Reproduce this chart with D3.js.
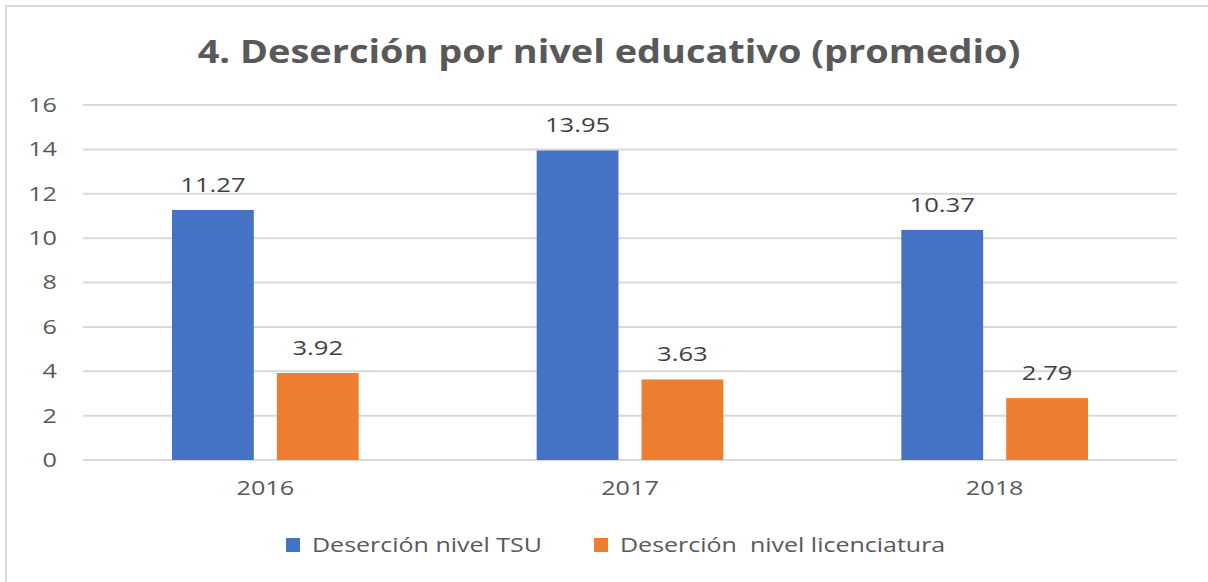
<!DOCTYPE html>
<html>
<head>
<meta charset="utf-8">
<script src="https://cdn.jsdelivr.net/npm/d3@7"></script>
<style>
  body { margin: 0; background: #fff; }
  text { font-family: 'Open Sans', 'Noto Sans', sans-serif; }
  .grid line { stroke: #d9d9d9; stroke-width: 2px; }
  .axis text { fill: #595959; font-size: 20px; }
  .label { fill: #404040; font-size: 20px; }
</style>
</head>
<body>
<div id="chart"></div>
<script>
const years = ["2016", "2017", "2018"];
const seriesNames = ["Deserción nivel TSU", "Deserción  nivel licenciatura"];
const tsu = [11.27, 13.95, 10.37];
const licenciatura = [3.92, 3.63, 2.79];
const yTicks = [0, 2, 4, 6, 8, 10, 12, 14, 16];
const colors = ["#4472c4", "#ed7d31"];

const width = 1208, height = 582;
const margin = { top: 105, right: 31, bottom: 122, left: 83 };
const innerW = width - margin.left - margin.right;
const innerH = height - margin.top - margin.bottom;
const stretch = 1.26; // the source text is drawn wide

const svg = d3.select("#chart").append("svg")
  .attr("width", width)
  .attr("height", height);

// widen a text around its anchor point
function widen(sel, k) {
  sel.each(function () {
    const t = d3.select(this);
    const x = +t.attr("x") || 0, y = +t.attr("y") || 0;
    t.attr("transform", `translate(${x},${y}) scale(${k},1) translate(${-x},${-y})`);
  });
}

// chart border (right and bottom edges fall outside the picture)
svg.append("rect")
  .attr("x", 6).attr("y", 6)
  .attr("width", width + 10).attr("height", height + 10)
  .attr("fill", "none").attr("stroke", "#d9d9d9").attr("stroke-width", 2);

svg.append("text")
  .attr("x", 609).attr("y", 63)
  .attr("text-anchor", "middle")
  .attr("fill", "#595959")
  .style("font-size", "32px").style("font-weight", "bold")
  .text("4. Deserción por nivel educativo (promedio)")
  .call(widen, 1.185);

const g = svg.append("g").attr("transform", `translate(${margin.left},${margin.top})`);

const x0 = d3.scaleBand().domain(years).range([0, innerW]).paddingInner(0).paddingOuter(0);
const x1 = d3.scaleBand().domain([0, 1]).range([89, x0.bandwidth() - 89]).paddingInner(0.22);
const y = d3.scaleLinear().domain([0, 16]).range([innerH, 0]);

g.append("g").attr("class", "grid")
  .selectAll("line").data(yTicks).join("line")
  .attr("x1", 0).attr("x2", innerW)
  .attr("y1", d => y(d)).attr("y2", d => y(d));

const yAxis = g.append("g").attr("class", "axis")
  .call(d3.axisLeft(y).tickValues(yTicks).tickSize(0).tickPadding(26))
  .call(s => s.select(".domain").remove());
yAxis.selectAll("text").call(widen, stretch);

const xAxis = g.append("g").attr("class", "axis")
  .attr("transform", `translate(0,${innerH})`)
  .call(d3.axisBottom(x0).tickSize(0).tickPadding(21))
  .call(s => s.select(".domain").remove());
xAxis.selectAll("text").call(widen, stretch);

const data = years.map((yr, i) => ({ yr, vals: [tsu[i], licenciatura[i]] }));

const groups = g.selectAll(".grp").data(data).join("g")
  .attr("transform", d => `translate(${x0(d.yr)},0)`);

groups.selectAll("rect").data(d => d.vals.map((v, k) => ({ v, k }))).join("rect")
  .attr("x", d => x1(d.k))
  .attr("width", x1.bandwidth())
  .attr("y", d => y(d.v))
  .attr("height", d => innerH - y(d.v))
  .attr("fill", d => colors[d.k]);

groups.selectAll(".label").data(d => d.vals.map((v, k) => ({ v, k }))).join("text")
  .attr("class", "label")
  .attr("x", d => x1(d.k) + x1.bandwidth() / 2)
  .attr("y", d => y(d.v) - 18)
  .attr("text-anchor", "middle")
  .text(d => d.v.toFixed(2))
  .call(widen, 1.28);

const legend = svg.append("g").attr("transform", "translate(0,545)");
const legendX = [286, 594];
seriesNames.forEach((name, i) => {
  legend.append("rect")
    .attr("x", legendX[i]).attr("y", -7)
    .attr("width", 14).attr("height", 14)
    .attr("fill", colors[i]);
  legend.append("text")
    .attr("x", legendX[i] + 26).attr("y", 7)
    .attr("fill", "#595959")
    .style("font-size", "20px")
    .attr("xml:space", "preserve")
    .style("white-space", "pre")
    .text(name)
    .call(widen, 1.25);
});
</script>
</body>
</html>
